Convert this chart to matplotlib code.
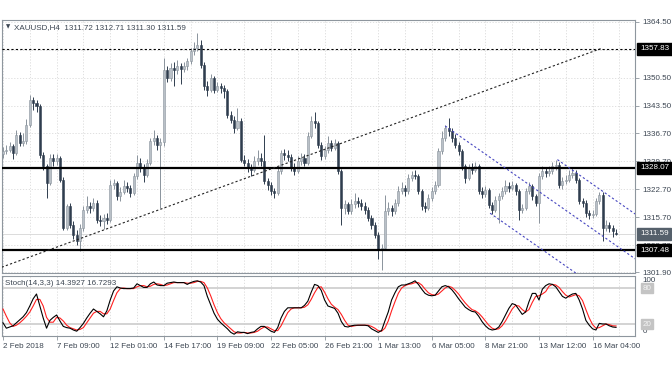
import matplotlib
matplotlib.use("Agg")
import matplotlib.pyplot as plt
import matplotlib.transforms as mtrans
import numpy as np

plt.rcParams["font.family"] = ["Liberation Sans", "DejaVu Sans"]

# ---- XAUUSD H4 candles ----
opens = [1331.5, 1332.2, 1332.6, 1333.4, 1331.8, 1336.3, 1334.3, 1334.7, 1338.8, 1345.1,
         1344.3, 1343.4, 1331.3, 1328.4, 1324.3, 1330.5, 1329.8, 1330.5, 1325.1, 1313.0,
         1318.4, 1313.8, 1311.3, 1309.7, 1313.0, 1317.6, 1318.6, 1318.0, 1319.3, 1315.1,
         1314.7, 1315.5, 1315.1, 1323.8, 1324.3, 1320.9, 1322.1, 1323.4, 1323.0, 1321.8,
         1325.9, 1329.3, 1328.0, 1326.3, 1329.3, 1334.7, 1335.5, 1333.8, 1334.5, 1352.6,
         1350.5, 1353.0, 1352.5, 1353.4, 1352.8, 1353.4, 1354.7, 1357.2, 1358.0, 1358.8,
         1353.8, 1348.4, 1347.5, 1350.5, 1347.6, 1348.4, 1347.9, 1347.2, 1341.3, 1340.1,
         1338.0, 1339.7, 1330.1, 1329.3, 1328.0, 1327.6, 1329.7, 1330.5, 1329.8, 1324.7,
         1323.8, 1322.2, 1321.8, 1327.2, 1331.8, 1331.3, 1330.8, 1328.0, 1327.2, 1329.8,
         1330.5, 1329.3, 1336.0, 1339.7, 1339.3, 1333.8, 1330.9, 1332.6, 1334.3, 1333.0,
         1334.3, 1327.2, 1318.0, 1318.9, 1317.2, 1318.9, 1319.7, 1319.3, 1318.4, 1317.6,
         1315.5, 1313.8, 1311.3, 1307.6, 1308.0, 1317.2, 1318.0, 1317.2, 1319.3, 1322.2,
         1323.0, 1322.2, 1325.5, 1326.3, 1326.0, 1322.2, 1318.4, 1318.0, 1320.5, 1322.2,
         1323.8, 1332.2, 1335.5, 1338.0, 1337.2, 1335.5, 1333.8, 1332.2, 1328.4, 1325.5,
         1328.0, 1327.6, 1328.4, 1322.2, 1321.6, 1322.4, 1318.8, 1317.6, 1320.0, 1320.9,
         1322.2, 1323.4, 1323.0, 1323.8, 1322.2, 1317.6, 1318.0, 1322.2, 1323.4, 1320.9,
         1319.3, 1325.9, 1327.2, 1326.8, 1327.2, 1328.4, 1328.8, 1323.8, 1324.7, 1325.1,
         1326.3, 1326.8, 1325.1, 1319.7, 1319.3, 1316.8, 1316.3, 1316.6, 1319.7, 1321.3,
         1313.0, 1313.8, 1313.0, 1311.72]
highs = [1333.2, 1333.8, 1334.5, 1334.0, 1337.5, 1337.0, 1336.8, 1340.2, 1346.2, 1345.8,
         1345.0, 1344.0, 1332.0, 1329.0, 1331.4, 1331.5, 1331.6, 1331.0, 1325.8, 1319.0,
         1319.2, 1314.8, 1312.4, 1314.0, 1318.6, 1321.0, 1319.6, 1320.4, 1320.0, 1316.2,
         1316.6, 1316.8, 1325.0, 1325.2, 1324.8, 1323.2, 1325.0, 1324.4, 1323.8, 1326.8,
         1331.2, 1330.4, 1329.0, 1330.2, 1335.6, 1337.4, 1336.2, 1335.4, 1355.5, 1353.4,
         1354.2, 1354.4, 1355.0, 1354.2, 1354.4, 1355.6, 1358.0, 1359.4, 1361.8, 1360.0,
         1354.4, 1349.8, 1351.4, 1351.0, 1349.6, 1349.2, 1348.8, 1347.8, 1342.2, 1341.0,
         1343.0, 1340.4, 1331.2, 1330.2, 1329.0, 1331.0, 1332.6, 1331.8, 1336.3, 1325.6,
         1324.4, 1323.0, 1328.0, 1332.6, 1332.8, 1332.4, 1331.4, 1329.2, 1331.0, 1331.8,
         1331.6, 1337.0, 1341.0, 1342.0, 1339.8, 1334.4, 1333.6, 1336.0, 1335.0, 1335.2,
         1334.8, 1327.8, 1320.0, 1319.6, 1320.2, 1321.8, 1320.8, 1320.2, 1319.6, 1318.2,
         1316.2, 1314.4, 1312.0, 1309.0, 1321.3, 1319.4, 1318.8, 1320.2, 1323.6, 1324.4,
         1323.8, 1326.4, 1327.2, 1327.6, 1326.6, 1322.8, 1319.4, 1321.4, 1323.2, 1324.8,
         1333.0, 1337.2, 1338.8, 1340.5, 1338.0, 1336.4, 1334.6, 1332.8, 1329.0, 1329.0,
         1329.2, 1329.6, 1329.0, 1323.2, 1323.4, 1323.0, 1319.6, 1321.0, 1321.8, 1323.2,
         1325.0, 1324.4, 1324.8, 1324.2, 1322.8, 1319.0, 1323.0, 1324.6, 1324.0, 1321.6,
         1326.8, 1328.4, 1328.2, 1328.6, 1329.4, 1330.0, 1329.4, 1325.8, 1326.2, 1327.4,
         1328.2, 1327.4, 1325.6, 1320.6, 1320.0, 1317.6, 1317.4, 1320.6, 1322.0, 1322.0,
         1315.0, 1314.6, 1313.8, 1312.71]
lows = [1330.6, 1331.4, 1331.9, 1330.2, 1331.2, 1333.5, 1333.6, 1334.0, 1338.2, 1342.5,
        1342.0, 1330.5, 1327.5, 1320.5, 1323.8, 1328.6, 1328.8, 1324.5, 1312.4, 1312.5,
        1313.0, 1310.2, 1308.8, 1307.2, 1312.2, 1316.8, 1316.8, 1317.2, 1314.2, 1313.4,
        1312.7, 1314.0, 1314.6, 1322.8, 1320.0, 1319.8, 1321.5, 1322.0, 1320.8, 1321.2,
        1325.2, 1327.0, 1324.6, 1325.8, 1328.8, 1333.8, 1332.6, 1318.0, 1333.6, 1349.6,
        1349.8, 1348.5, 1351.6, 1349.0, 1352.0, 1352.4, 1354.0, 1356.2, 1357.2, 1353.0,
        1347.6, 1346.0, 1347.0, 1346.8, 1347.0, 1346.8, 1345.6, 1340.6, 1339.2, 1336.8,
        1337.4, 1329.4, 1328.4, 1327.0, 1326.0, 1327.0, 1328.8, 1328.4, 1324.0, 1322.6,
        1321.2, 1320.6, 1321.2, 1326.6, 1330.0, 1329.8, 1327.2, 1326.2, 1326.8, 1328.8,
        1328.6, 1328.8, 1335.4, 1338.0, 1333.0, 1330.0, 1330.2, 1331.8, 1332.2, 1332.4,
        1326.4, 1313.8, 1316.6, 1316.4, 1316.6, 1318.0, 1318.2, 1317.4, 1316.6, 1314.8,
        1312.8, 1310.4, 1305.2, 1302.5, 1307.4, 1316.2, 1316.0, 1316.6, 1318.6, 1321.4,
        1321.0, 1321.6, 1324.8, 1325.2, 1321.4, 1317.6, 1317.0, 1317.6, 1319.8, 1321.6,
        1323.2, 1331.6, 1334.8, 1336.0, 1334.4, 1333.0, 1331.2, 1327.6, 1324.2, 1325.0,
        1326.6, 1327.0, 1321.4, 1320.4, 1320.8, 1318.0, 1316.4, 1317.0, 1314.3, 1320.2,
        1321.6, 1322.0, 1322.4, 1321.2, 1315.0, 1316.8, 1317.4, 1321.6, 1320.0, 1318.4,
        1314.2, 1325.2, 1325.8, 1326.0, 1326.6, 1327.6, 1323.0, 1322.8, 1324.0, 1324.6,
        1325.6, 1324.2, 1319.0, 1318.2, 1315.8, 1315.2, 1315.4, 1316.0, 1319.0, 1309.7,
        1312.2, 1312.0, 1310.8, 1311.30]
closes = [1332.2, 1332.6, 1333.4, 1331.8, 1336.3, 1334.3, 1334.7, 1338.8, 1345.1, 1344.3,
          1343.4, 1331.3, 1328.4, 1324.3, 1330.5, 1329.8, 1330.5, 1325.1, 1313.0, 1318.4,
          1313.8, 1311.3, 1309.7, 1313.0, 1317.6, 1318.6, 1318.0, 1319.3, 1315.1, 1314.7,
          1315.5, 1315.1, 1323.8, 1324.3, 1320.9, 1322.1, 1323.4, 1323.0, 1321.8, 1325.9,
          1329.3, 1328.0, 1326.3, 1329.3, 1334.7, 1335.5, 1333.8, 1334.5, 1352.6, 1350.5,
          1353.0, 1352.5, 1353.4, 1352.8, 1353.4, 1354.7, 1357.2, 1358.0, 1358.8, 1353.8,
          1348.4, 1347.5, 1350.5, 1347.6, 1348.4, 1347.9, 1347.2, 1341.3, 1340.1, 1338.0,
          1339.7, 1330.1, 1329.3, 1328.0, 1327.6, 1329.7, 1330.5, 1329.8, 1324.7, 1323.8,
          1322.2, 1321.8, 1327.2, 1331.8, 1331.3, 1330.8, 1328.0, 1327.2, 1329.8, 1330.5,
          1329.3, 1336.0, 1339.7, 1339.3, 1333.8, 1330.9, 1332.6, 1334.3, 1333.0, 1334.3,
          1327.2, 1318.0, 1318.9, 1317.2, 1318.9, 1319.7, 1319.3, 1318.4, 1317.6, 1315.5,
          1313.8, 1311.3, 1307.6, 1308.0, 1317.2, 1318.0, 1317.2, 1319.3, 1322.2, 1323.0,
          1322.2, 1325.5, 1326.3, 1326.0, 1322.2, 1318.4, 1318.0, 1320.5, 1322.2, 1323.8,
          1332.2, 1335.5, 1338.0, 1337.2, 1335.5, 1333.8, 1332.2, 1328.4, 1325.5, 1328.0,
          1327.6, 1328.4, 1322.2, 1321.6, 1322.4, 1318.8, 1317.6, 1320.0, 1320.9, 1322.2,
          1323.4, 1323.0, 1323.8, 1322.2, 1317.6, 1318.0, 1322.2, 1323.4, 1320.9, 1319.3,
          1325.9, 1327.2, 1326.8, 1327.2, 1328.4, 1328.8, 1323.8, 1324.7, 1325.1, 1326.3,
          1326.8, 1325.1, 1319.7, 1319.3, 1316.8, 1316.3, 1316.6, 1319.7, 1321.3, 1313.0,
          1313.8, 1313.0, 1312.2, 1311.59]

# Stochastic(14,3,3): %K (black) and %D (red)
stoch_k = [22, 13, 15, 17, 22, 27, 32, 39, 50, 62,
           70, 50, 30, 13, 26, 31, 35, 25, 16, 14,
           13, 10, 8, 14, 21, 30, 38, 45, 41, 37,
           32, 42, 60, 75, 82, 80, 79, 79, 79, 80,
           87, 84, 81, 81, 87, 90, 85, 84, 84, 88,
           89, 90, 89, 89, 89, 86, 89, 91, 92, 90,
           84, 66, 52, 38, 28, 22, 17, 12, 6, 3,
           7, 6, 6, 4, 6, 7, 12, 16, 16, 12,
           8, 6, 14, 30, 41, 47, 47, 47, 47, 47,
           51, 58, 73, 86, 84, 76, 60, 50, 48, 46,
           38, 24, 16, 15, 17, 18, 18, 18, 18, 17,
           12, 9, 6, 9, 25, 40, 60, 72, 82, 85,
           85, 87, 89, 92, 86, 78, 71, 68, 67, 68,
           75, 82, 84, 82, 77, 70, 62, 55, 48, 44,
           41, 40, 33, 24, 17, 12, 10, 11, 15, 24,
           35, 46, 54, 52, 44, 36, 40, 57, 71, 71,
           60, 78, 84, 87, 86, 82, 74, 66, 63, 67,
           70, 71, 60, 45, 26, 18, 12, 10, 21, 20,
           20, 17, 15, 14.39]
stoch_d = [45, 33, 22, 16, 18, 22, 27, 33, 40, 50,
           61, 61, 50, 31, 23, 23, 31, 30, 25, 18,
           14, 12, 10, 11, 14, 22, 30, 38, 41, 41,
           37, 37, 45, 59, 72, 79, 80, 79, 79, 79,
           82, 84, 84, 82, 83, 86, 87, 86, 84, 85,
           87, 89, 89, 89, 89, 88, 88, 89, 91, 91,
           89, 80, 67, 52, 39, 29, 22, 17, 12, 7,
           5, 5, 6, 5, 5, 6, 8, 12, 15, 15,
           12, 9, 9, 17, 28, 39, 45, 47, 47, 47,
           48, 52, 61, 72, 81, 82, 73, 62, 53, 48,
           44, 36, 26, 18, 16, 17, 18, 18, 18, 18,
           16, 13, 9, 8, 13, 25, 42, 57, 71, 80,
           84, 86, 87, 89, 89, 85, 78, 72, 69, 68,
           70, 75, 80, 83, 81, 76, 70, 62, 55, 49,
           44, 42, 38, 32, 25, 18, 13, 11, 12, 17,
           25, 35, 45, 51, 50, 44, 40, 44, 56, 66,
           67, 70, 74, 83, 86, 85, 81, 74, 68, 65,
           67, 69, 67, 59, 44, 30, 19, 13, 14, 17,
           20, 19, 17, 16.73]

date_labels = ["2 Feb 2018", "7 Feb 09:00", "12 Feb 01:00", "14 Feb 17:00",
               "19 Feb 09:00", "22 Feb 05:00", "26 Feb 21:00", "1 Mar 13:00",
               "6 Mar 05:00", "8 Mar 21:00", "13 Mar 12:00", "16 Mar 04:00"]
date_bars = [0, 16, 32, 48, 64, 80, 96, 112, 128, 144, 160, 176]
grid_prices = [1364.50, 1357.50, 1350.50, 1343.50, 1336.70, 1329.70,
               1322.70, 1315.70, 1308.70, 1301.90]
price_labels = [1364.50, 1350.50, 1343.50, 1336.70, 1329.70,
                1322.70, 1315.70, 1308.70, 1301.90]

# drawn objects (bar index, price)
levels = [1328.07, 1307.48]
top_level = 1357.83
trend_x, trend_y = [-0.4, 178.4], [1303.2, 1357.83]
chan_up1_x, chan_up1_y = [132, 188.7], [1338.5, 1305.3]
chan_lo1_x, chan_lo1_y = [145.4, 176], [1316.7, 1298.8]
chan_up2_x, chan_up2_y = [165.5, 188.7], [1330.1, 1316.5]
last_price = 1311.59

o = np.array(opens); h = np.array(highs); l = np.array(lows); c = np.array(closes)
x = np.arange(len(c))
up = c >= o

W, H = 672, 372
fig = plt.figure(figsize=(W / 100, H / 100), dpi=100)
ax = fig.add_axes([2 / W, (H - 273) / H, 633 / W, 253 / H])
sx = fig.add_axes([2 / W, (H - 336) / H, 633 / W, 60 / H], sharex=ax)

txt = "#3c4652"
fs = 5.8
frame = "#8e969e"
gridc = "#dadada"

# grid
for a in (ax, sx):
    for gx in range(0, 190, 8):
        a.axvline(gx, color=gridc, lw=0.6, ls=(0, (1.5, 2)), zorder=0)
for p in grid_prices:
    ax.axhline(p, color=gridc, lw=0.6, ls=(0, (1.5, 2)), zorder=0)

# candles
bull_fc, bull_ec = "#b9c0c7", "#8a939c"
bear_fc = "#2f3d4e"
ax.vlines(x, l, h, colors=np.where(up, bull_ec, bear_fc), lw=0.7, zorder=2)
body = np.maximum(np.abs(c - o), 0.15)
ax.bar(x, body, bottom=np.minimum(o, c), width=0.62,
       color=np.where(up, bull_fc, bear_fc), edgecolor=np.where(up, bull_ec, bear_fc),
       lw=0.4, zorder=3)

# lines
for lv in levels:
    ax.axhline(lv, color="black", lw=1.6, zorder=4)
ax.axhline(top_level, color="black", lw=0.8, ls=(0, (2, 2)), zorder=4)
ax.plot(trend_x, trend_y, color="#222222", lw=0.8, ls=(0, (2, 2)), zorder=4)
for cx, cy in [(chan_up1_x, chan_up1_y), (chan_lo1_x, chan_lo1_y), (chan_up2_x, chan_up2_y)]:
    ax.plot(cx, cy, color="#4646c0", lw=0.8, ls=(0, (2, 2)), zorder=4)
ax.axhline(last_price, color="#d6d6d6", lw=0.6, zorder=1)

ax.set_xlim(-0.3, 188.66)
ax.set_ylim(1301.75, 1365.0)
ax.yaxis.tick_right()
ax.set_yticks(price_labels)
ax.set_yticklabels([f"{p:.2f}" for p in price_labels], fontsize=fs, color=txt)
ax.tick_params(axis="y", length=3, width=0.6, color=frame, pad=2)
ax.tick_params(axis="x", bottom=False, labelbottom=False)
for s in ax.spines.values():
    s.set_color(frame); s.set_linewidth(0.8)

# value boxes on the price scale
tr = mtrans.blended_transform_factory(ax.transAxes, ax.transData)
for val, fc in [(top_level, "black"), (levels[0], "black"), (levels[1], "black"),
                (last_price, "#55606b")]:
    ax.text(1.008, val, f"{val:.2f}", transform=tr, ha="left", va="center",
            fontsize=fs, color="white", clip_on=False, zorder=10,
            bbox=dict(boxstyle="square,pad=0.32", fc=fc, ec=fc))

ax.text(0.006, 0.972, "\u25BC", transform=ax.transAxes, fontsize=4, color=txt,
        ha="left", va="center", family="DejaVu Sans")
ax.text(0.019, 0.972, "XAUUSD,H4  1311.72 1312.71 1311.30 1311.59",
        transform=ax.transAxes, fontsize=fs, color=txt, ha="left", va="center")

# stochastic panel
sx.axhline(80, color="#cccccc", lw=1.2, zorder=1)
sx.axhline(20, color="#cccccc", lw=1.2, zorder=1)
sx.plot(x, stoch_d, color="#ff2020", lw=0.8, zorder=3)
sx.plot(x, stoch_k, color="black", lw=0.8, zorder=4)
sx.set_ylim(0, 100)
sx.set_yticks([])
for s in sx.spines.values():
    s.set_color(frame); s.set_linewidth(0.8)
sx.text(0.005, 0.93, "Stoch(14,3,3) 14.3927 16.7293", transform=sx.transAxes,
        fontsize=fs, color=txt, ha="left", va="top")
trs = mtrans.blended_transform_factory(sx.transAxes, sx.transData)
sx.text(1.012, 99, "100", transform=trs, fontsize=fs, color=txt, ha="left", va="top", clip_on=False)
sx.text(1.012, 1, "0", transform=trs, fontsize=fs, color=txt, ha="left", va="bottom", clip_on=False)
for v in (80, 20):
    sx.text(1.012, v, str(v), transform=trs, fontsize=fs, color="#f4f4f4", ha="left",
            va="center", clip_on=False,
            bbox=dict(boxstyle="square,pad=0.15", fc="#c4c4c4", ec="#c4c4c4"))

sx.set_xticks(date_bars)
sx.set_xticklabels(date_labels, fontsize=fs, color=txt, ha="left")
sx.tick_params(axis="x", length=3, width=0.6, color=frame, pad=2)

fig.savefig("out.png", dpi=100)
